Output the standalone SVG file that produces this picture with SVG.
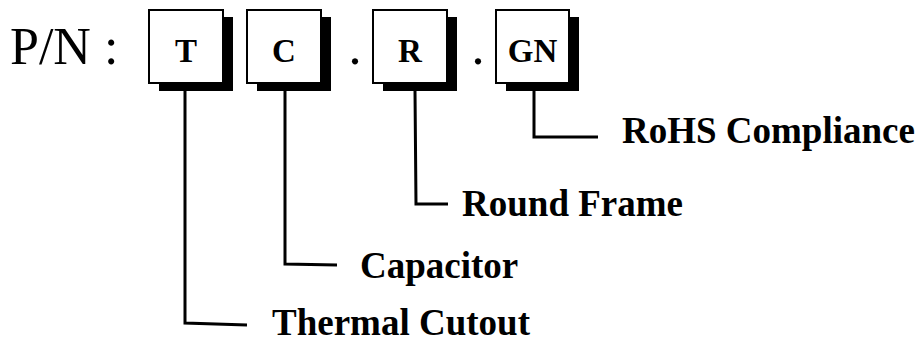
<svg xmlns="http://www.w3.org/2000/svg" width="921" height="344" viewBox="0 0 921 344">
<style>
.box{fill:#fff;stroke:#000;stroke-width:2}
.sh{fill:#000}
.bt{font-family:"Liberation Serif",serif;font-weight:bold;font-size:33px;text-anchor:middle}
.lbl{font-family:"Liberation Serif",serif;font-weight:bold;font-size:37px}
.pn{font-family:"Liberation Serif",serif;font-size:52px}
.con{fill:none;stroke:#000;stroke-width:3}
</style>
<rect width="921" height="344" fill="#fff"/>
<text class="pn" x="10" y="64">P/N :</text>
<text class="pn" x="355" y="64" text-anchor="middle">.</text>
<text class="pn" x="478" y="64" text-anchor="middle">.</text>
<g id="node-T">
<rect class="sh" x="159" y="17" width="74" height="74"/>
<rect class="box" x="149" y="10" width="74" height="73"/>
<text class="bt" x="186" y="62">T</text>
</g>
<g id="node-C">
<rect class="sh" x="257" y="17" width="74" height="74"/>
<rect class="box" x="247" y="10" width="74" height="73"/>
<text class="bt" x="284" y="62">C</text>
</g>
<g id="node-R">
<rect class="sh" x="383" y="17" width="74" height="74"/>
<rect class="box" x="373" y="10" width="74" height="73"/>
<text class="bt" x="410" y="62">R</text>
</g>
<g id="node-GN">
<rect class="sh" x="506" y="17" width="73" height="74"/>
<rect class="box" x="496" y="10" width="73" height="73"/>
<text class="bt" x="532.5" y="62">GN</text>
</g>
<g id="connectors">
<polyline class="con" points="185,91 185,323 247,325"/>
<polyline class="con" points="285,91 285,264 337,265"/>
<polyline class="con" points="415,91 416,204 448,204"/>
<polyline class="con" points="534,91 534,137 598,137"/>
</g>
<g id="labels">
<text class="lbl" x="622" y="143">RoHS Compliance</text>
<text class="lbl" x="462" y="216">Round Frame</text>
<text class="lbl" x="360" y="278">Capacitor</text>
<text class="lbl" x="272" y="335">Thermal Cutout</text>
</g>
</svg>
